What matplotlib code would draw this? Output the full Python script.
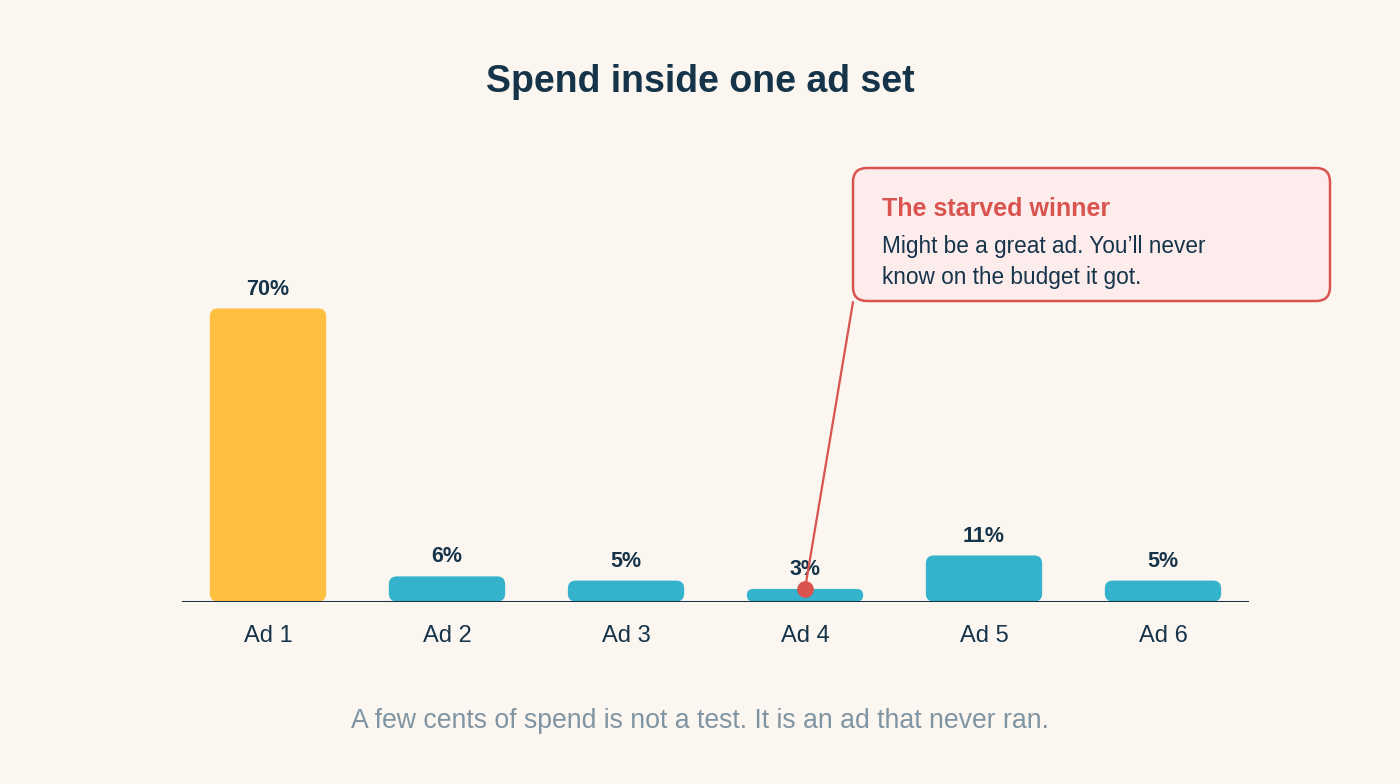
import matplotlib
matplotlib.use("Agg")
import matplotlib.pyplot as plt
from matplotlib.patches import FancyBboxPatch, ConnectionPatch

plt.rcParams['font.family'] = ['Liberation Sans', 'DejaVu Sans']

# data
ads = ['Ad 1', 'Ad 2', 'Ad 3', 'Ad 4', 'Ad 5', 'Ad 6']
spend = [70, 6, 5, 3, 11, 5]
highlight = 'Ad 1'
starved = 'Ad 4'

BG = '#FCF6F0'
NAVY = '#15344A'
GOLD = '#FFBF40'
TEAL = '#35B3CC'
RED = '#D9534F'
PINK = '#FDECEC'
GREY = '#7F95A3'

W, H = 1400, 784
fig = plt.figure(figsize=(W / 100, H / 100), dpi=100, facecolor=BG)

# main axes, placed so the baseline sits where the reference has it
px_x = 179.0          # pixels per category
px_y = 4.186          # pixels per percent
x0, x1 = -0.48, 5.48
y0, y1 = 0, 80
left = 268 - (0 - x0) * px_x
bottom = H - 601.5
ax = fig.add_axes([left / W, bottom / H, (x1 - x0) * px_x / W, (y1 - y0) * px_y / H])
ax.set_facecolor('none')
ax.set_xlim(x0, x1)
ax.set_ylim(y0, y1)
for s in ax.spines.values():
    s.set_visible(False)
ax.set_yticks([])

bar_w = 0.65
aspect = px_x / px_y
for i, (name, val) in enumerate(zip(ads, spend)):
    r_px = min(8, val * px_y / 2)
    bar = FancyBboxPatch((i - bar_w / 2, 0), bar_w, val,
                         boxstyle=f"round,pad=0,rounding_size={r_px / px_x}",
                         mutation_aspect=aspect,
                         facecolor=GOLD if name == highlight else TEAL,
                         edgecolor='none', zorder=2)
    ax.add_patch(bar)
    ax.annotate(f"{val}%", (i, val), xytext=(0, 10), textcoords='offset points',
                ha='center', va='baseline', fontsize=15.5, fontweight='bold',
                color=NAVY, zorder=4)

ax.axhline(0, color=NAVY, lw=2.2, zorder=3)
ax.set_xticks(range(len(ads)))
ax.set_xticklabels(ads, fontsize=17, color=NAVY)
ax.tick_params(axis='x', length=0, pad=17)

# starved winner marker
si = ads.index(starved)
ax.plot(si, spend[si], 'o', color=RED, ms=11, zorder=5)

# overlay in pixel coordinates for the callout
ov = fig.add_axes([0, 0, 1, 1])
ov.set_xlim(0, W)
ov.set_ylim(H, 0)
ov.axis('off')
ov.patch.set_visible(False)

box = FancyBboxPatch((853, 168), 477, 133, boxstyle="round,pad=0,rounding_size=14",
                     facecolor=PINK, edgecolor=RED, lw=1.8, zorder=3)
ov.add_patch(box)
ov.text(882, 209, "The starved winner", fontsize=18, fontweight='bold',
        color=RED, ha='left', va='center', zorder=4)
ov.text(882, 246, "Might be a great ad. You\u2019ll never", fontsize=16.25,
        color=NAVY, ha='left', va='center', zorder=4)
ov.text(882, 277, "know on the budget it got.", fontsize=16.25,
        color=NAVY, ha='left', va='center', zorder=4)

con = ConnectionPatch(xyA=(853, 302), coordsA=ov.transData,
                      xyB=(si, spend[si]), coordsB=ax.transData,
                      color=RED, lw=1.6, zorder=4)
fig.add_artist(con)

fig.text(0.5, 1 - 82 / H, "Spend inside one ad set", ha='center', va='center',
         fontsize=27, fontweight='bold', color=NAVY)
fig.text(0.5, 1 - 721 / H, "A few cents of spend is not a test. It is an ad that never ran.",
         ha='center', va='center', fontsize=19.2, color=GREY)

fig.savefig('out.png', dpi=100, facecolor=BG)
